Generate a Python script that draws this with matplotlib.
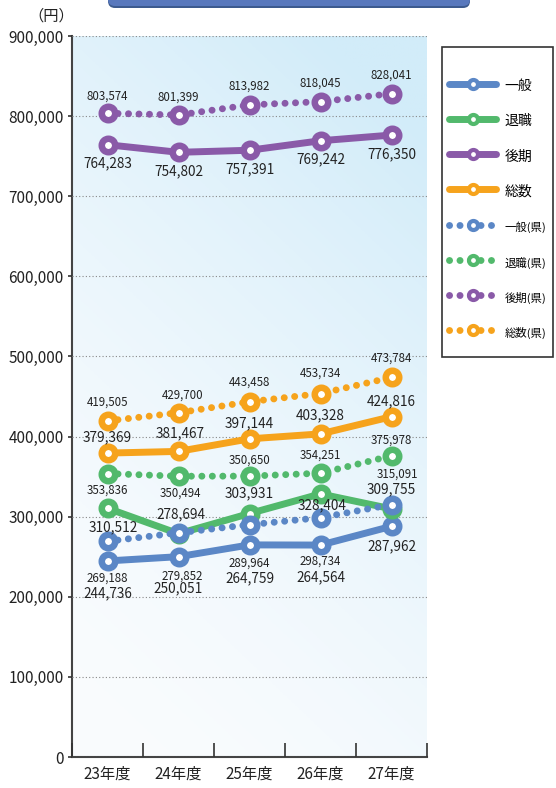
import numpy as np
import matplotlib
matplotlib.use("Agg")
import matplotlib.pyplot as plt
from matplotlib.patches import FancyBboxPatch, Rectangle
from matplotlib.transforms import IdentityTransform
from matplotlib.ticker import FuncFormatter, FixedLocator

plt.rcParams['font.family'] = ['Noto Sans CJK JP', 'DejaVu Sans']

# data
years = ["23年度", "24年度", "25年度", "26年度", "27年度"]
ippan = [244736, 250051, 264759, 264564, 287962]
taishoku = [310512, 278694, 303931, 328404, 309755]
kouki = [764283, 754802, 757391, 769242, 776350]
sousu = [379369, 381467, 397144, 403328, 424816]
ippan_ken = [269188, 279852, 289964, 298734, 315091]
taishoku_ken = [353836, 350494, 350650, 354251, 375978]
kouki_ken = [803574, 801399, 813982, 818045, 828041]
sousu_ken = [419505, 429700, 443458, 453734, 473784]

BLUE = "#5b87c6"
GREEN = "#52b96c"
PURPLE = "#8a5aa8"
ORANGE = "#f6a31c"

# (label, values, colour, dotted, label offsets in pixels per point)
series = [
    ("一般", ippan, BLUE, False, [(0, -32), (0, -32), (0, -33), (0, -32), (0, -20)]),
    ("退職", taishoku, GREEN, False, [(6, -19), (2, 19), (0, 20), (2, -11), (0, 20)]),
    ("後期", kouki, PURPLE, False, [(0, -19)] * 5),
    ("総数", sousu, ORANGE, False, [(0, 16), (2, 18), (0, 16), (0, 19), (0, 15)]),
    ("一般(県)", ippan_ken, BLUE, True, [(0, -37), (4, -43), (0, -38), (0, -43), (6, 30)]),
    ("退職(県)", taishoku_ken, GREEN, True, [(0, -17), (2, -17), (0, 16), (0, 18), (0, 16)]),
    ("後期(県)", kouki_ken, PURPLE, True, [(0, 17), (0, 18), (0, 19), (0, 19), (0, 19)]),
    ("総数(県)", sousu_ken, ORANGE, True, [(0, 19), (4, 18), (0, 20), (0, 20), (0, 19)]),
]


def main():
    fig = plt.figure(figsize=(5.56, 7.88), dpi=100)
    ax = fig.add_axes([72 / 556, 31 / 788, 355 / 556, 721 / 788])

    # gradient background
    gx, gy = np.meshgrid(np.linspace(0, 1, 200), np.linspace(0, 1, 200))
    t = np.clip(0.35 * gx + 0.75 * gy, 0, 1) ** 1.6
    c0 = np.array([250, 252, 254]) / 255
    c1 = np.array([210, 236, 249]) / 255
    img = c0[None, None, :] * (1 - t[..., None]) + c1[None, None, :] * t[..., None]
    ax.imshow(img, extent=(-0.5, 4.5, 0, 900000), origin="lower", aspect="auto", zorder=0)

    x = np.arange(len(years))
    handles = []
    for name, vals, col, dotted, offs in series:
        ls = (0, (0.01, 1.5)) if dotted else "-"
        line, = ax.plot(x, vals, color=col, lw=5, ls=ls, dash_capstyle="round",
                        solid_capstyle="round", marker="o", ms=9.7, mew=4.7,
                        mfc="white", mec=col, zorder=3, label=name)
        handles.append(line)
        fs = 8.3 if dotted else 9.8
        for xi, v, (dx, dy) in zip(x, vals, offs):
            ax.annotate(f"{v:,}", (xi, v), xytext=(dx, dy), textcoords="offset pixels",
                        ha="center", va="center", fontsize=fs, color="#222222", zorder=5)

    ax.set_xlim(-0.5, 4.5)
    ax.set_ylim(0, 900000)
    ax.set_yticks(np.arange(0, 900001, 100000))
    ax.yaxis.set_major_formatter(FuncFormatter(lambda v, p: f"{int(v):,}"))
    ax.yaxis.grid(True, ls=(0, (1, 2)), color="#888888", lw=0.8)
    ax.set_axisbelow(False)
    for gl in ax.get_ygridlines():
        gl.set_zorder(1)

    ax.xaxis.set_major_locator(FixedLocator(np.arange(-0.5, 5, 1)))
    ax.xaxis.set_minor_locator(FixedLocator(x))
    ax.set_xticklabels([], minor=False)
    ax.set_xticklabels(years, minor=True, fontsize=11, color="#222222")
    ax.tick_params(axis="x", which="major", direction="in", length=10, width=1.2, color="#333333")
    ax.tick_params(axis="x", which="minor", length=0, pad=6)
    ax.tick_params(axis="y", direction="out", length=3, width=1.2, color="#333333",
                   labelsize=11, labelcolor="#222222", pad=3)

    for s in ["top", "right"]:
        ax.spines[s].set_visible(False)
    for s in ["left", "bottom"]:
        ax.spines[s].set_color("#444444")
        ax.spines[s].set_linewidth(1.5)

    fig.text(51 / 556, 1 - 16 / 788, "（円）", ha="center", va="center", fontsize=11, color="#222222")

    # title bar at the top (cut off)
    fig.add_artist(FancyBboxPatch((108, 780), 362, 40, boxstyle="round,pad=0,rounding_size=7",
                                  transform=IdentityTransform(), fc="#3c5a8e", ec="none"))
    fig.add_artist(FancyBboxPatch((108, 782), 362, 40, boxstyle="round,pad=0,rounding_size=7",
                                  transform=IdentityTransform(), fc="#5878bd", ec="none"))

    # legend frame drawn separately, entries placed inside it
    fig.add_artist(Rectangle((442, 788 - 357), 111, 310, transform=IdentityTransform(),
                             fc="white", ec="#333333", lw=1.2, zorder=4))
    leg = fig.legend(handles=handles, loc="upper left",
                     bbox_to_anchor=(449 / 556, 1 - 77 / 788), bbox_transform=fig.transFigure,
                     fontsize=10, handlelength=3.4, handleheight=1.5, labelspacing=1.32,
                     borderpad=0, handletextpad=0.6, borderaxespad=0, frameon=False)
    leg.set_zorder(5)
    for h in leg.legend_handles:
        h.set_markersize(6.5)
        h.set_markeredgewidth(3)
    for i, txt in enumerate(leg.get_texts()):
        if i >= 4:
            txt.set_fontsize(8.2)

    fig.savefig("out.png", dpi=100)


if __name__ == "__main__":
    main()
